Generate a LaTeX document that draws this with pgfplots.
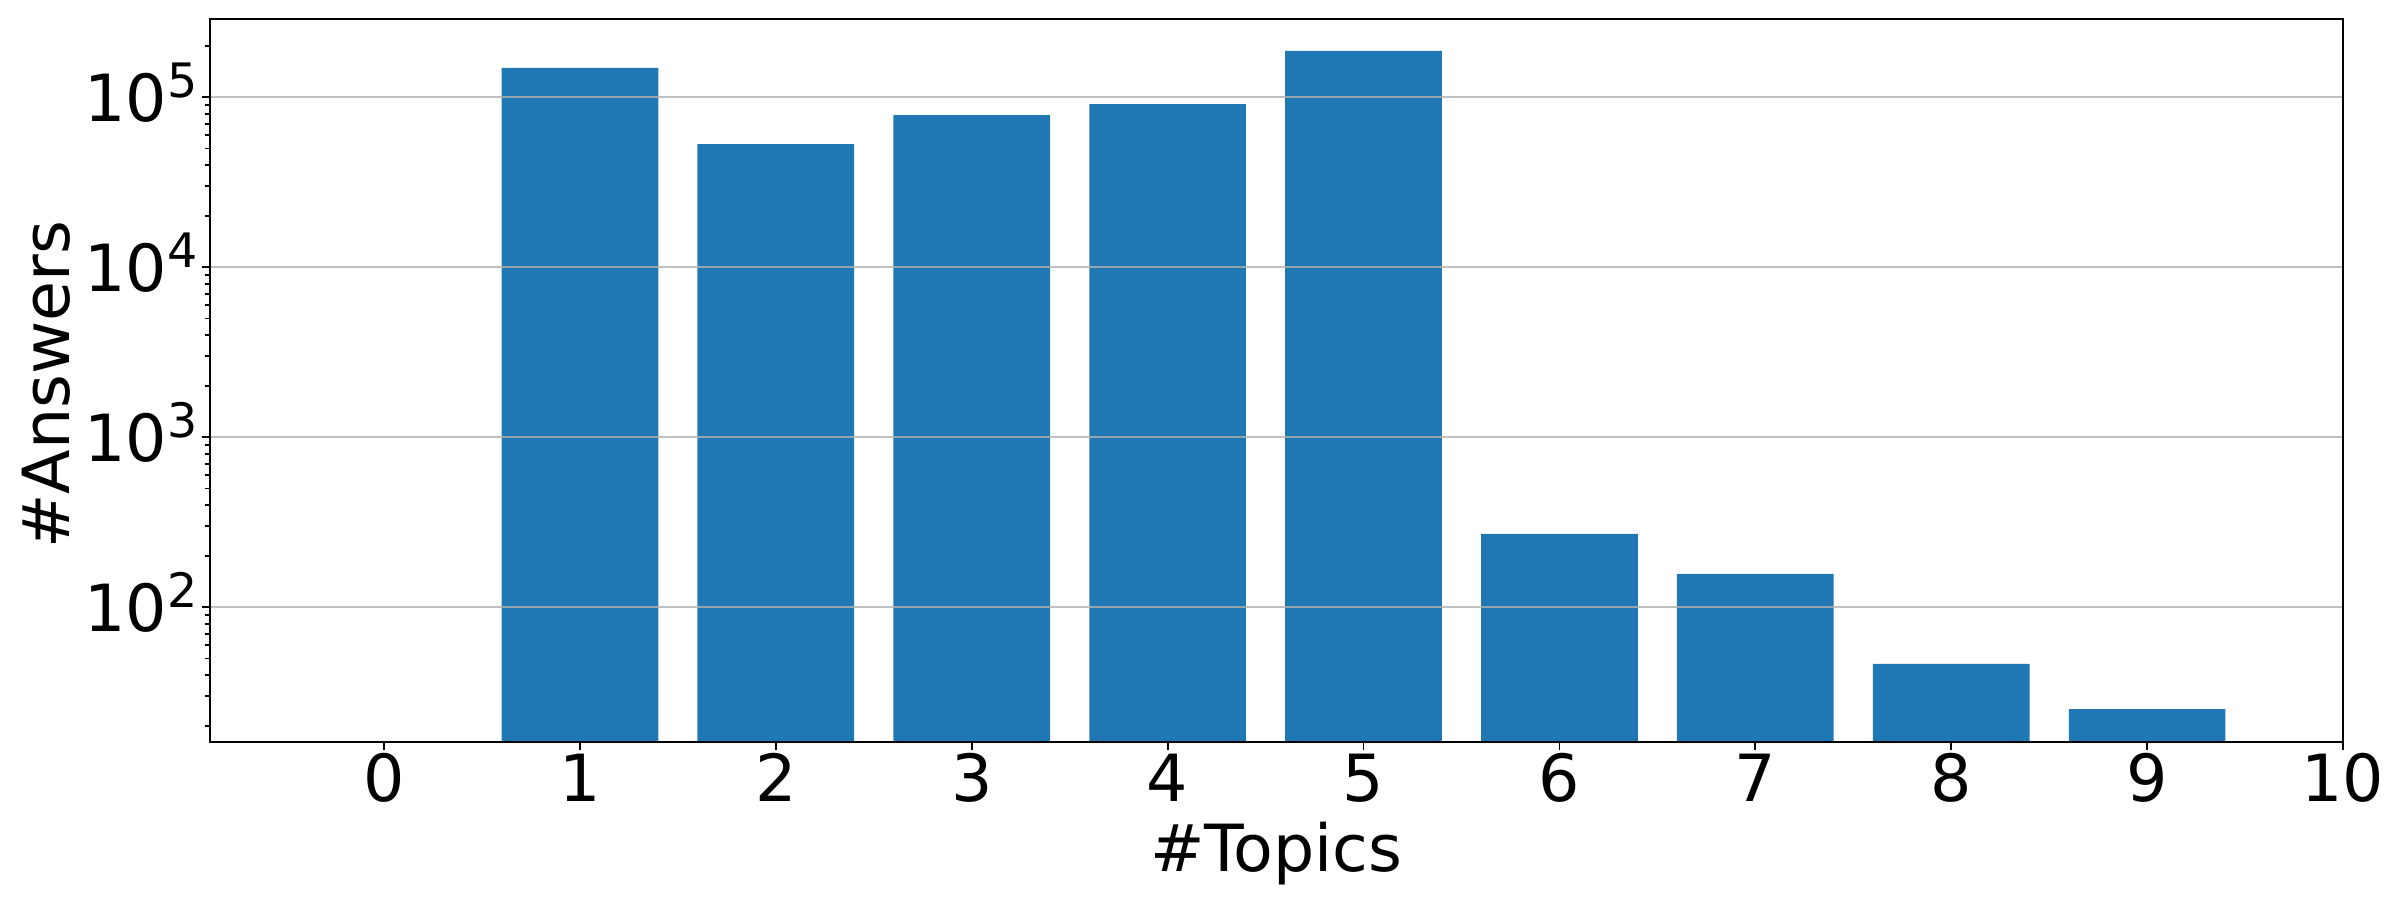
\documentclass[border=0pt]{standalone}
\usepackage{fontspec}
\setmainfont{DejaVu Sans}
\usepackage{pgfplots}
\pgfplotsset{compat=1.18}
\definecolor{barblue}{HTML}{1F77B4}
\definecolor{gridgray}{HTML}{B0B0B0}
\newcommand{\pw}[1]{10\raisebox{6.9pt}{\fontsize{13.5pt}{14pt}\selectfont #1}}
\begin{document}
\begin{tikzpicture}
\begin{axis}[
  scale only axis,
  width=21.333cm, height=7.233cm,
  ymode=log,
  xmin=-0.89, xmax=10,
  ymin=16.07, ymax=289000,
  xtick={0,1,2,3,4,5,6,7,8,9,10},
  xticklabels={0,1,2,3,4,5,6,7,8,9,10},
  ytick={100,1000,10000,100000},
  yticklabels={\pw{2},\pw{3},\pw{4},\pw{5}},
  minor ytick={20,30,40,50,60,70,80,90,200,300,400,500,600,700,800,900,2000,3000,4000,5000,6000,7000,8000,9000,20000,30000,40000,50000,60000,70000,80000,90000,200000},
  tick pos=left,
  tick align=outside,
  major tick length=0.08cm,
  minor tick length=0.05cm,
  every tick/.style={black, line width=0.5pt},
  axis line style={line width=0.6pt},
  ymajorgrids=true,
  grid style={gridgray, line width=0.6pt, opacity=0.8},
  axis on top,
  tick label style={font=\fontsize{18.5pt}{22pt}\selectfont, inner sep=0pt},
  xticklabel style={anchor=base},
  xticklabel shift=0.514cm,
  yticklabel style={anchor=base east, yshift=-0.244cm},
  yticklabel shift=0.037cm,
  label style={font=\fontsize{18.5pt}{22pt}\selectfont, inner sep=0pt},
  xlabel={\#Topics},
  xlabel style={at={(axis description cs:0.5,-0.1789)}, anchor=base},
  ylabel={\#Answers},
  ylabel style={at={(axis description cs:-0.0881,0.494)}, anchor=north, rotate=0},
  ybar, bar width=0.8, bar shift=0pt,
  log origin=infty,
]
\addplot[fill=barblue, draw=none] coordinates {
  (1,148900) (2,53100) (3,78700) (4,91300) (5,187500)
  (6,270) (7,157) (8,46.4) (9,25.2)
};
\end{axis}
\pgfresetboundingbox
\path ([xshift=-2.097cm, yshift=-1.577cm]current axis.south west)
  rectangle ([xshift=0.57cm, yshift=0.19cm]current axis.north east);
\end{tikzpicture}
\end{document}
